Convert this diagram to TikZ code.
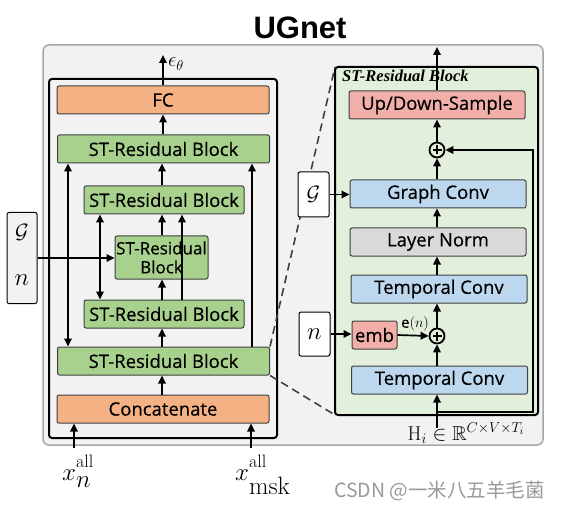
\documentclass[tikz,border=0pt]{standalone}
\usepackage{fontspec}
\usepackage{amssymb}
\setsansfont{Open Sans}[FakeBold=0.4]
\newfontfamily\cjk{Noto Sans CJK SC}
\newfontfamily\titlefont{Liberation Sans}
\newfontfamily\seriffont{Liberation Serif}
\usetikzlibrary{arrows.meta,calc}
\definecolor{fcorange}{HTML}{F4B183}
\definecolor{stgreen}{HTML}{A9D18E}
\definecolor{udpink}{HTML}{F2AFA9}
\definecolor{convblue}{HTML}{BDD7EE}
\definecolor{normgray}{HTML}{D9D9D9}
\definecolor{panelgreen}{HTML}{E2EFDA}
\definecolor{outerbg}{HTML}{F2F2F2}
\definecolor{bordergray}{HTML}{404040}
\begin{document}
\begin{tikzpicture}[x=1pt,y=-1pt,
  blk/.style={draw=bordergray, line width=1pt, rounded corners=2pt, inner sep=0pt,
    font=\sffamily\fontsize{18.5}{20}\selectfont},
  arr/.style={-{Triangle[length=8pt,width=7.5pt]}, line width=1.7pt},
  darr/.style={{Triangle[length=8pt,width=7.5pt]}-{Triangle[length=8pt,width=7.5pt]}, line width=1.7pt},
  oplus/.style={circle, draw=black, line width=1.8pt, minimum size=15pt, inner sep=0pt,
    path picture={\draw[line width=1.5pt] (path picture bounding box.center) +(0,4.5) -- +(0,-4.5)
      (path picture bounding box.center) +(4.5,0) -- +(-4.5,0);}},
  smallbox/.style={draw=black, line width=1pt, rounded corners=2pt, fill=white, inner sep=0pt},
  dashln/.style={dashed, dash pattern=on 8pt off 5pt, line width=1.6pt, draw=bordergray},
  xlab/.style={font=\fontsize{36}{38}\selectfont, anchor=base west, inner sep=0pt}
]
\useasboundingbox (0,0) rectangle (561,510);

% title
\node[font=\titlefont\bfseries\fontsize{31}{34}\selectfont] (title) at (300,28) {UGnet};

% outer box
\draw[draw=gray!70, fill=outerbg, line width=1.5pt, rounded corners=6pt] (43,45) rectangle (543,445);
% left inner frame
\draw[draw=black, line width=2pt, rounded corners=3pt] (49,79) rectangle (277,438);

% left column blocks
\node[blk, fill=fcorange, minimum width=212pt, minimum height=28pt] (fc) at (163,100) {FC};
\node[blk, fill=stgreen, minimum width=212pt, minimum height=28pt] (st1) at (163.5,149) {ST-Residual Block};
\node[blk, fill=stgreen, minimum width=160pt, minimum height=28pt] (st2) at (164,200) {ST-Residual Block};
\node[blk, fill=stgreen, minimum width=93pt, minimum height=43pt, align=center,
  font=\sffamily\fontsize{17}{19}\selectfont] (mid) at (161.5,257.5) {ST-Residual\\Block};
\node[blk, fill=stgreen, minimum width=160pt, minimum height=28pt] (st4) at (164,314) {ST-Residual Block};
\node[blk, fill=stgreen, minimum width=212pt, minimum height=28pt] (st5) at (163.5,361) {ST-Residual Block};
\node[blk, fill=fcorange, minimum width=212pt, minimum height=28pt] (cat) at (163,409) {Concatenate};

% main vertical arrows
\coordinate (epstop) at (163,55);
\draw[arr] (fc.north) -- (epstop);
\node[font=\fontsize{20}{22}\selectfont] (eps) at (176,64) {$\epsilon_\theta$};
\draw[arr] (st1.north -| fc.north) -- (fc.south);
\draw[arr] (st2.north -| 162,0) -- (st1.south -| 162,0);
\draw[arr] (mid.north -| 162,0) -- (st2.south -| 162,0);
\draw[arr] (st4.north -| 162,0) -- (mid.south -| 162,0);
\draw[arr] (st5.north -| 162,0) -- (st4.south -| 162,0);
\draw[arr] (cat.north -| 162,0) -- (st5.south -| 162,0);

% skip connections
\draw[darr] (st1.south -| 68,0) -- (st5.north -| 68,0);
\draw[arr] (st5.north -| 252,0) -- (st1.south -| 252,0);
\draw[darr] (st2.south -| 100,0) -- (st4.north -| 100,0);
\draw[arr] (st4.north -| 182,0) -- (st2.south -| 182,0);

% G / n input box
\node[smallbox, fill=outerbg, minimum width=30pt, minimum height=91pt] (gn) at (22,258) {};
\node[font=\fontsize{22}{24}\selectfont] (gnG) at (22,232) {$\mathcal{G}$};
\node[font=\fontsize{29}{31}\selectfont] (gnn) at (22,280) {$n$};
\draw[arr] (gn.east) -- (mid.west |- gn.east);

% bottom inputs
\coordinate (xnin) at (74,448);
\coordinate (xmin) at (251,448);
\draw[arr] (xnin) -- (xnin |- cat.south);
\draw[arr] (xmin) -- (xmin |- cat.south);
\node[xlab] (xn) at (62,480) {$x^{\raisebox{3pt}{$\scriptscriptstyle\mathrm{all}$}}_{n}$};
\node[xlab] (xm) at (235,480) {$x^{\raisebox{3pt}{$\scriptscriptstyle\mathrm{all}$}}_{\mathrm{msk}}$};

% right panel
\draw[draw=black, fill=panelgreen, line width=2pt, rounded corners=3pt] (335,67) rectangle (538,415);
\coordinate (pnw) at (335,67);
\coordinate (psw) at (335,415);
\draw[dashln] (st5.north east) -- (pnw);
\draw[dashln] (st5.south east) -- (psw);
\node[anchor=west, font=\seriffont\bfseries\itshape\fontsize{16.5}{18}\selectfont, inner sep=0pt] (ptitle) at (342,76) {ST-Residual Block};

\node[blk, fill=udpink, minimum width=176pt, minimum height=28pt] (ud) at (437,105) {Up/Down-Sample};
\node[oplus] (p1) at (437,150) {};
\node[blk, fill=convblue, minimum width=176pt, minimum height=28pt] (gc) at (438,194) {Graph Conv};
\node[blk, fill=normgray, minimum width=176pt, minimum height=28pt] (ln) at (438,242) {Layer Norm};
\node[blk, fill=convblue, minimum width=176pt, minimum height=28pt] (tc1) at (439,289) {Temporal Conv};
\node[blk, fill=udpink, minimum width=45pt, minimum height=28pt] (emb) at (374.5,335) {emb};
\node[oplus] (p2) at (437,336) {};
\node[blk, fill=convblue, minimum width=176pt, minimum height=28pt] (tc2) at (439.5,380) {Temporal Conv};

\node[smallbox, minimum width=31pt, minimum height=45pt, font=\fontsize{22}{24}\selectfont] (gR) at (313.5,194.5) {$\mathcal{G}$};
\node[smallbox, minimum width=31pt, minimum height=44pt, font=\fontsize{29}{31}\selectfont] (nR) at (314.5,334) {$n$};

\coordinate (outtop) at (437,47);
\draw[arr] (ud.north -| 437,0) -- (outtop);
\draw[arr] (p1.north) -- (ud.south -| 437,0);
\draw[arr] (gc.north -| 437,0) -- (p1.south);
\draw[arr] (ln.north -| 437,0) -- (gc.south -| 437,0);
\draw[arr] (tc1.north -| 437,0) -- (ln.south -| 437,0);
\draw[arr] (p2.north) -- (tc1.south -| 437,0);
\draw[arr] (tc2.north -| 437,0) -- (p2.south);
\draw[arr] (gR.east) -- (gc.west |- gR.east);
\draw[arr] (nR.east) -- (emb.west |- nR.east);
\draw[arr] (emb.east) -- node[above=0pt, font=\fontsize{15}{17}\selectfont, xshift=2pt] (en) {\sffamily e$(n)$} (p2.west);

\coordinate (hin) at (437,428);
\draw[arr] (hin) -- (tc2.south -| 437,0);
\coordinate (rs) at (437,412);
\coordinate (rc) at (533,150);
\draw[arr] (rs) -| (rc) -- (p1.east);
\node[font=\fontsize{20}{22}\selectfont, inner sep=0pt] (hl) at (466,433) {$\mathrm{H}_i\in\mathbb{R}^{C\times V\times T_i}$};

% watermark
\node[font=\cjk\fontsize{19.5}{21}\selectfont, text=gray!80, anchor=west, inner sep=0pt] (wm) at (334,491) {CSDN @一米八五羊毛菌};
\end{tikzpicture}
\end{document}
